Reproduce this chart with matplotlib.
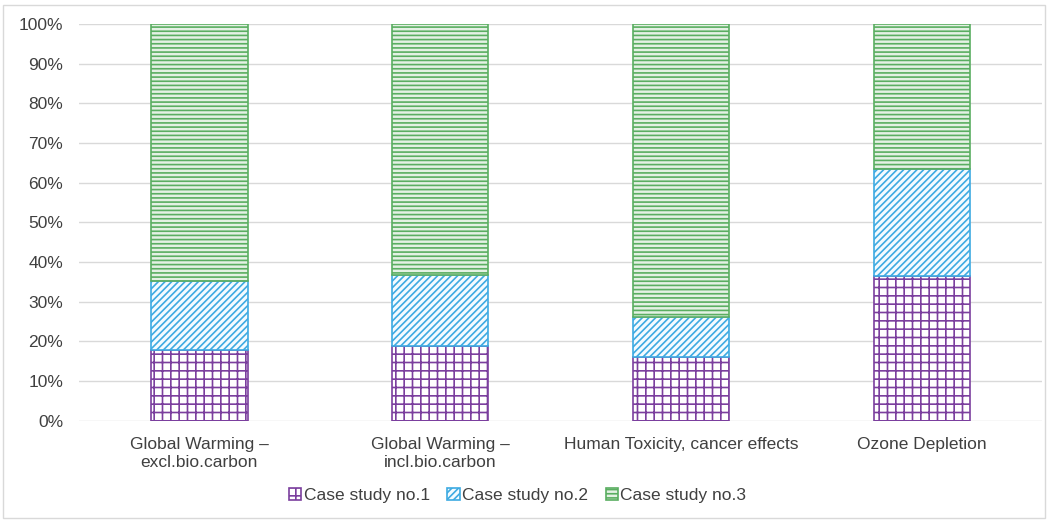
import matplotlib
matplotlib.use("Agg")
from matplotlib import pyplot as plt
from matplotlib.patches import Rectangle
from matplotlib.ticker import PercentFormatter

categories = ["Global Warming –\nexcl.bio.carbon", "Global Warming –\nincl.bio.carbon",
              "Human Toxicity, cancer effects", "Ozone Depletion"]
case1 = [17.8, 18.8, 15.9, 36.5]
case2 = [17.5, 17.9, 10.2, 27.0]
case3 = [100 - a - b for a, b in zip(case1, case2)]
series_names = ["Case study no.1", "Case study no.2", "Case study no.3"]

plt.rcParams["font.family"] = ["Liberation Sans", "DejaVu Sans"]
plt.rcParams["hatch.linewidth"] = 1.2

fig = plt.figure(figsize=(10.48, 5.22), dpi=100)
ax = fig.add_axes([0.0754, 0.1944, 0.9189, 0.7596])

x = range(len(categories))
purple = "#7b3f9e"
blue = "#3daae2"
green = "#5aae61"

b1 = ax.bar(x, case1, width=0.4, facecolor="white", edgecolor=purple, hatch="++",
            linewidth=1.2, label=series_names[0], zorder=3)
b2 = ax.bar(x, case2, width=0.4, bottom=case1, facecolor="#f4fbff", edgecolor=blue,
            hatch="/////", linewidth=1.2, label=series_names[1], zorder=3)
bottom3 = [a + b for a, b in zip(case1, case2)]
b3 = ax.bar(x, case3, width=0.4, bottom=bottom3, facecolor="#e4f1e4", edgecolor=green,
            hatch="----", linewidth=1.2, label=series_names[2], zorder=3)

ax.set_xlim(-0.5, 3.5)
ax.set_ylim(0, 100)
ax.set_yticks(range(0, 101, 10))
ax.yaxis.set_major_formatter(PercentFormatter(decimals=0))
ax.set_xticks(list(x))
ax.set_xticklabels(categories, fontsize=12.5, color="#404040", linespacing=1.2)
ax.tick_params(axis="y", labelsize=12.5, labelcolor="#404040", length=0, pad=11.5)
ax.tick_params(axis="x", length=0, pad=12)
ax.grid(axis="y", color="#d9d9d9", linewidth=1.0, zorder=0)
for s in ax.spines.values():
    s.set_visible(False)

fig.legend(handles=[b1, b2, b3], loc="center", bbox_to_anchor=(0.494, 0.05), ncol=3,
           frameon=False, fontsize=12.5, handlelength=0.7, handleheight=0.7,
           handletextpad=0.15, columnspacing=1.0, labelcolor="#404040")

fig.patches.append(Rectangle((0.003, 0.008), 0.994, 0.982, transform=fig.transFigure,
                             fill=False, edgecolor="#d9d9d9", linewidth=1.0))

plt.savefig("out.png", dpi=100)
